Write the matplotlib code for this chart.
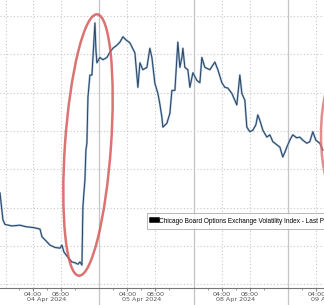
import numpy as np
import matplotlib
matplotlib.use('Agg')
import matplotlib.pyplot as plt
from matplotlib.patches import Ellipse

# session hours since the start of the 04 Apr session (each day ~13.5 h on the axis)
hours = [-0.71, -0.29, 0.0, 1.0, 2.14, 3.0, 4.0, 5.0, 5.29, 5.71,
         6.43, 7.14, 7.86, 8.14, 8.43, 9.0, 9.57, 10.0, 10.43, 10.71,
         11.0, 11.14, 11.29, 11.43, 11.57, 11.71, 11.86, 12.14, 12.43, 12.86,
         13.0, 13.14, 13.57, 14.0, 14.57, 15.0, 15.43, 16.0, 16.43, 16.86,
         17.29, 17.86, 18.57, 19.0, 19.29, 19.71, 20.29, 20.71, 21.0, 21.43,
         21.86, 22.14, 22.43, 22.57, 23.14, 23.57, 23.86, 24.29, 24.71, 25.0,
         25.29, 25.43, 25.71, 26.14, 26.43, 26.86, 27.43, 27.86, 28.14, 28.57,
         29.29, 30.0, 30.43, 31.0, 31.43, 31.86, 32.43, 32.86, 33.14, 33.57,
         33.86, 34.29, 34.57, 35.0, 35.43, 35.86, 36.14, 36.43, 36.86, 37.43,
         37.86, 38.29, 38.86, 39.29, 39.71, 40.0, 40.29, 40.71, 41.14, 41.71,
         42.14, 42.57, 43.14, 43.57, 44.0, 44.43, 45.0, 45.43]
vix = [14.19, 13.84, 13.78, 13.76, 13.77, 13.75, 13.74, 13.72, 13.62, 13.58,
       13.51, 13.48, 13.47, 13.51, 13.42, 13.35, 13.29, 13.28, 13.26, 13.29,
       13.25, 14.01, 14.20, 14.36, 14.75, 14.84, 15.44, 15.73, 15.73, 16.41,
       16.06, 15.89, 15.96, 15.93, 15.96, 16.03, 16.08, 16.12, 16.16, 16.23,
       16.19, 16.15, 16.02, 15.57, 15.89, 15.80, 15.83, 16.08, 15.96, 15.62,
       15.49, 15.35, 15.18, 15.05, 15.10, 15.23, 15.53, 15.53, 16.16, 15.83,
       15.96, 16.08, 15.83, 15.80, 15.57, 15.76, 15.66, 15.63, 15.96, 15.83,
       15.80, 15.90, 15.80, 15.63, 15.57, 15.56, 15.49, 15.40, 15.34, 15.73,
       15.49, 15.40, 15.05, 14.99, 15.01, 15.08, 15.21, 15.14, 15.01, 14.92,
       14.95, 14.86, 14.82, 14.79, 14.66, 14.72, 14.79, 14.88, 14.95, 14.91,
       14.92, 14.88, 14.84, 14.86, 14.99, 14.88, 14.84, 14.75]

day_start = [0, 13.5, 27.0, 40.5]
day_labels = ['04 Apr 2024', '05 Apr 2024', '08 Apr 2024', '09 Apr 2024']
tick_offsets = [4, 8]
tick_names = ['04:00', '08:00']
legend_label = 'Chicago Board Options Exchange Volatility Index - Last Price'

fig = plt.figure(figsize=(3.24, 3.05), dpi=100)
ax = fig.add_axes([0, 17/305, 1, 288/305])

ax.plot(hours, vix, color='#9bbde0', lw=1.5, solid_joinstyle='round')
ax.plot(hours, vix, color='#2e4257', lw=0.7, label=legend_label)

# grid
for y in np.arange(13.0, 16.6, 0.5):
    ax.axhline(y, color='#c8c8c8', lw=0.8, ls=(0, (1, 2)), zorder=0)
xt, xl = [], []
for d in day_start:
    for o, n in zip(tick_offsets, tick_names):
        xt.append(d + o)
        xl.append(n)
        ax.axvline(d + o, color='#c8c8c8', lw=0.8, ls=(0, (1, 2)), zorder=0)
ax.axvline(0.14, color='#c8c8c8', lw=0.8, ls=(0, (1, 2)), zorder=0)
for d in day_start[1:]:
    ax.axvline(d, ymin=-17/288, ymax=1, color='#c4c4c4', lw=0.9, clip_on=False, zorder=0)

ax.set_xticks(xt)
ax.set_xticklabels(xl, fontsize=4.6, color='#555555')
ax.set_xticks([d + o for d in day_start for o in (2, 6, 10)], minor=True)
ax.tick_params(axis='x', which='major', length=2, pad=1, color='#888888')
ax.tick_params(axis='x', which='minor', length=1.5, color='#888888')
ax.set_yticks([])
ax.set_xlim(-0.71, 45.6)
ax.set_ylim(12.95, 16.71)
for d, lab in zip(day_start, day_labels):
    ax.text(d + 6, -12/288, lab, transform=ax.get_xaxis_transform(), ha='center',
            va='center', fontsize=4.6, color='#555555')

for s in ['top', 'left', 'right']:
    ax.spines[s].set_visible(False)
ax.spines['bottom'].set_color('#777777')
ax.spines['bottom'].set_linewidth(0.8)

leg = ax.legend(loc='upper left', bbox_to_anchor=(147/324, (305-213)/305),
                bbox_transform=fig.transFigure, frameon=True,
                prop={'family': 'Liberation Sans', 'size': 4.7},
                fancybox=False, handlelength=0.8, handletextpad=0.4,
                borderpad=0.7, borderaxespad=0)
leg.get_frame().set_edgecolor('#999999')
leg.get_frame().set_linewidth(0.6)
for h in leg.legend_handles:
    h.set_linewidth(4)
    h.set_color('black')

# red highlight around the spike
tr = fig.dpi_scale_trans
fig.patches.append(Ellipse((0.88, 1.60), 0.46, 2.62, angle=-4, fill=False,
                           edgecolor='#d65a5a', lw=1.8, alpha=0.85, transform=tr))
fig.patches.append(Ellipse((3.40, 1.70), 0.38, 1.30, angle=0, fill=False,
                           edgecolor='#e07070', lw=1.8, alpha=0.8, transform=tr))

fig.savefig('out.png', dpi=100)
